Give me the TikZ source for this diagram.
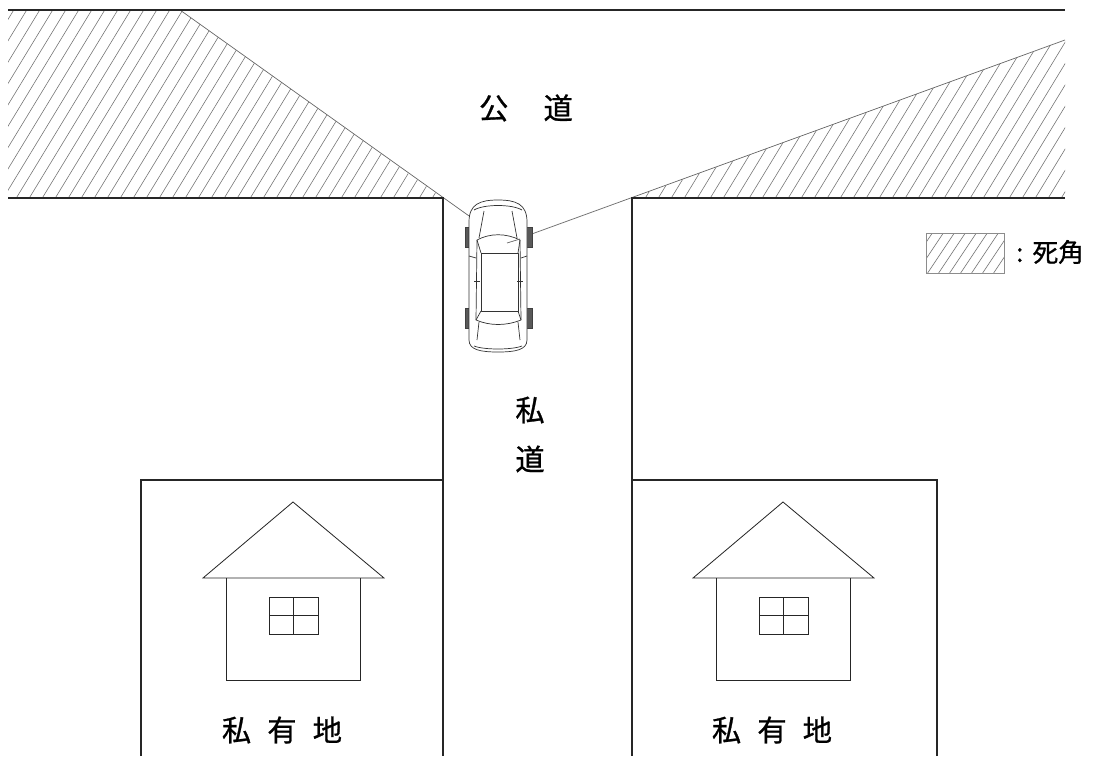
\documentclass[tikz,border=0pt]{standalone}
\usepackage{fontspec}
\newfontfamily\jpfont[FakeBold=0.9]{Noto Sans CJK JP}
\begin{document}
\begin{tikzpicture}[x=0.03cm,y=-0.03cm,
  edge/.style={draw=black!85,line width=0.9pt},
  hatchline/.style={draw=black!55,line width=0.5pt},
  sight/.style={draw=black!60,line width=0.6pt},
  carline/.style={draw=black!80,line width=0.6pt,line join=round},
  wheel/.style={fill=black!65,draw=black!75,line width=0.4pt},
  label/.style={font=\jpfont\fontsize{25}{25}\selectfont,inner sep=0pt},
  leglabel/.style={font=\jpfont\fontsize{22}{22}\selectfont,inner sep=0pt}]
\useasboundingbox (0,0) rectangle (1095,756);

% blind-spot hatching, left and right of the junction
\begin{scope}
  \clip (8,10) -- (180,10) -- (443,198) -- (8,198) -- cycle;
  \foreach \i in {-160,-147,...,600} \draw[hatchline] (\i,210) -- ++(140,-230);
\end{scope}
\begin{scope}
  \clip (632,198) -- (1065,40) -- (1065,198) -- cycle;
  \foreach \i in {560,573,...,1100} \draw[hatchline] (\i,210) -- ++(140,-230);
\end{scope}

% sight lines from the driver
\coordinate (eye) at (507,243);
\coordinate (sl) at (180,10);
\coordinate (sr) at (1065,40);
\draw[sight] (sl) -- (eye) -- (sr);

% public road and private road edges
\draw[edge] (8,10) -- (1065,10);
\draw[edge] (8,198) -- (443,198) -- (443,756);
\draw[edge] (1065,198) -- (632,198) -- (632,756);

% private lots
\draw[edge] (141,756) -- (141,480) -- (443,480);
\draw[edge] (937,756) -- (937,480) -- (632,480);

% houses
\foreach \dx in {0,490} {
  \begin{scope}[xshift=\dx*0.03cm]
    \draw[edge,line width=0.7pt] (203,578) -- (293,502) -- (384,578) -- cycle;
    \draw[edge,line width=0.7pt] (226,578) -- (226,680) -- (360,680) -- (360,578);
    \draw[edge,line width=0.7pt] (269,597) rectangle (318,634);
    \draw[edge,line width=0.7pt] (293.5,597) -- (293.5,634) (269,615.5) -- (318,615.5);
  \end{scope}
}

% car seen from above
\begin{scope}
  \draw[wheel] (465,227) rectangle (471,247);
  \draw[wheel] (465,308) rectangle (471,328);
  \draw[wheel] (526,227) rectangle (532,247);
  \draw[wheel] (526,308) rectangle (532,328);
  \draw[carline,fill=white] (469,340) -- (469,222) .. controls (469,204) and (480,200) .. (498,200)
     .. controls (516,200) and (527,204) .. (527,222) -- (527,340)
     .. controls (527,350) and (515,352) .. (498,352) .. controls (481,352) and (469,350) .. (469,340) -- cycle;
  \draw[carline] (474,210) .. controls (484,204) and (512,204) .. (522,210);
  \draw[carline] (474,346) .. controls (484,350) and (512,350) .. (522,346);
  % cabin
  \draw[carline] (477,240) .. controls (490,233) and (506,233) .. (520,240)
     -- (521,320) .. controls (506,326) and (490,326) .. (476,320) -- cycle;
  \draw[carline] (481,253) rectangle (518,311);
  \draw[carline] (477,240) -- (481,253) (520,240) -- (518,253);
  \draw[carline] (476,320) -- (481,311) (521,320) -- (518,311);
  % pillars and hood creases
  \draw[carline] (484,211) -- (479,238) (512,211) -- (517,238);
  \draw[carline] (479,322) -- (477,340) (518,322) -- (520,340);
  % mirrors and door lines
  \draw[carline] (469,256) -- (476,258) (527,256) -- (521,258);
  \draw[carline] (474,281) -- (480,281) (517,281) -- (523,281);
\end{scope}
\draw[sight] (eye) -- (520,239);

% texts
\node[label] (pub) at (526,108) {公\hspace{1.2em}道};
\node[label] (pv1) at (530,410) {私};
\node[label] (pv2) at (530,459) {道};
\node[label] (lot1) at (282,730) {私\hspace{0.55em}有\hspace{0.55em}地};
\node[label] (lot2) at (772,730) {私\hspace{0.55em}有\hspace{0.55em}地};

% legend
\begin{scope}
  \clip (926,233) rectangle (1004,273);
  \foreach \i in {890,901,...,1010} \draw[hatchline] (\i,280) -- ++(40,-60);
\end{scope}
\draw[draw=black!45,line width=0.5pt] (926,233) rectangle (1004,273);
\node[leglabel,anchor=west] (legtxt) at (1016,252) {:\hspace{0.35em}死角};
\end{tikzpicture}
\end{document}
